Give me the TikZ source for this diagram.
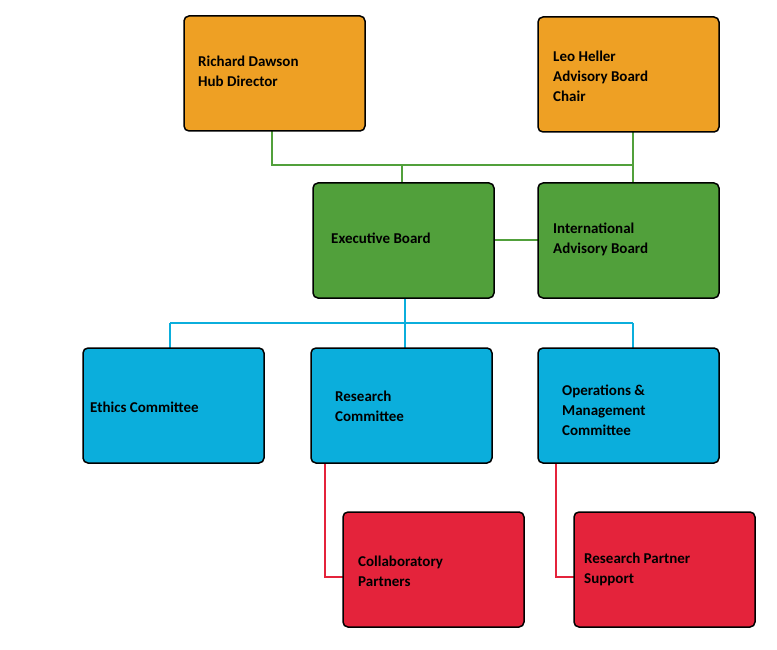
\documentclass[tikz,border=0pt]{standalone}
\usepackage{fontspec}
\setmainfont{Carlito}
\begin{document}
\begin{tikzpicture}[x=1pt,y=-1pt,
  box/.style={draw=black,line width=1.5pt,rounded corners=5pt},
  lbl/.style={anchor=west,align=left,font=\bfseries\fontsize{15}{20}\selectfont,inner sep=0pt},
  gl/.style={draw=green!55!black!80,line width=1.3pt},
  bl/.style={draw=cyan!70!blue,line width=1.3pt},
  rl/.style={draw=red!75!black,line width=1.3pt}]
\definecolor{org}{HTML}{EEA024}
\definecolor{grn}{HTML}{51A03B}
\definecolor{blu}{HTML}{0BAEDC}
\definecolor{rd}{HTML}{E4233B}
\useasboundingbox (0,0) rectangle (777,650);
% connectors
\coordinate (g1) at (272,165); \coordinate (g2) at (633,165); \coordinate (g3) at (402,165);
\coordinate (b0) at (405,323); \coordinate (b1) at (170,323); \coordinate (b2) at (633,323);
\coordinate (r1) at (325,577); \coordinate (r2) at (556,577);
\draw[gl,draw=grn] (272,131) -- (g1) -- (g2); \draw[gl,draw=grn] (633,132) -- (633,183);
\draw[gl,draw=grn] (g3) -- (402,183); \draw[gl,draw=grn] (494,240) -- (538,240);
\draw[bl,draw=blu] (405,298) -- (b0); \draw[bl,draw=blu] (b1) -- (b2);
\draw[bl,draw=blu] (b1) -- (170,348); \draw[bl,draw=blu] (b0) -- (405,348); \draw[bl,draw=blu] (b2) -- (633,348);
\draw[rl,draw=rd] (325,463) -- (r1) -- (343,577);
\draw[rl,draw=rd] (556,463) -- (r2) -- (574,577);
% boxes
\draw[box,fill=org] (184,16) rectangle (365,131) coordinate (rdw);
\node[lbl] (rdt) at (198,71) {Richard Dawson\\Hub Director};
\draw[box,fill=org] (538,17) rectangle (719,132);
\node[lbl] (lht) at (553,76) {Leo Heller\\Advisory Board\\Chair};
\draw[box,fill=grn] (313,183) rectangle (494,298);
\node[lbl] (ebt) at (331,238) {Executive Board};
\draw[box,fill=grn] (538,183) rectangle (719,298);
\node[lbl] (iat) at (553,239) {International\\Advisory Board};
\draw[box,fill=blu] (83,348) rectangle (264,463);
\node[lbl] (ect) at (90,407) {Ethics Committee};
\draw[box,fill=blu] (311,348) rectangle (492,463);
\node[lbl] (rct) at (335,406) {Research\\Committee};
\draw[box,fill=blu] (538,348) rectangle (719,463);
\node[lbl] (omt) at (562,410) {Operations \&\\Management\\Committee};
\draw[box,fill=rd] (343,512) rectangle (524,627);
\node[lbl] (cpt) at (358,571) {Collaboratory\\Partners};
\draw[box,fill=rd] (574,512) rectangle (755,627);
\node[lbl] (rpt) at (584,569) {Research Partner\\Support};
\end{tikzpicture}
\end{document}
